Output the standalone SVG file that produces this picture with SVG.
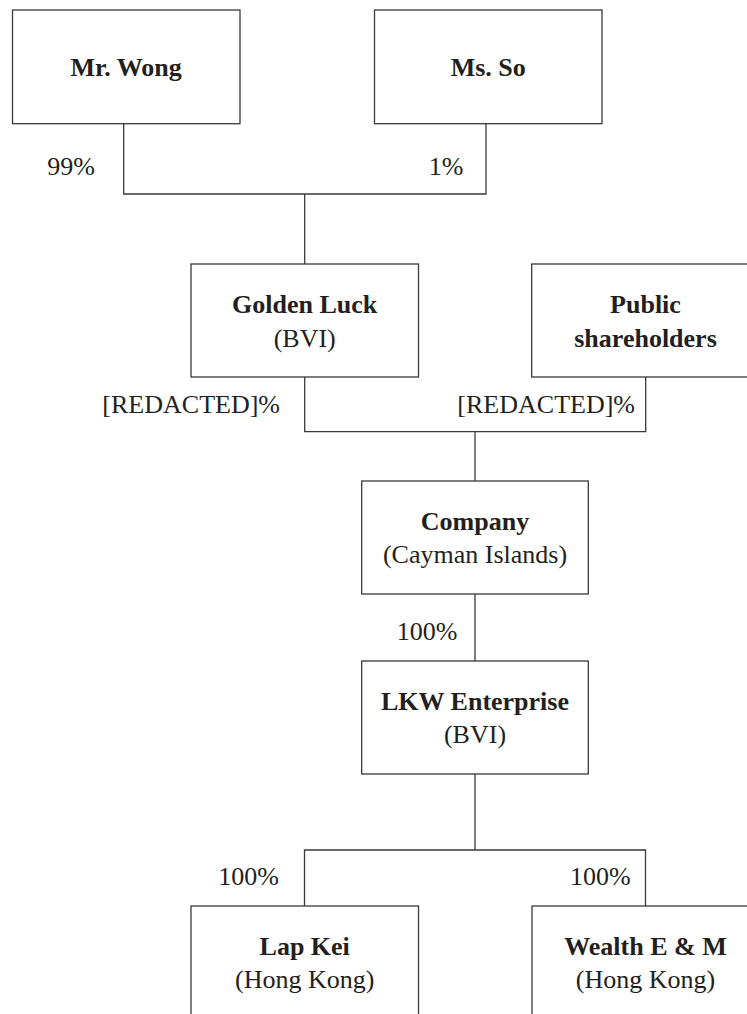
<svg xmlns="http://www.w3.org/2000/svg" width="747" height="1014" viewBox="0 0 747 1014">
<style>
.box{fill:#fff;stroke:#3a3a3a;stroke-width:1.3}
.con{fill:none;stroke:#3a3a3a;stroke-width:1.3}
text{font-family:"Liberation Serif","Times New Roman",serif;font-size:26px;fill:#231f20}
.b{font-weight:bold;text-anchor:middle}
.r{text-anchor:middle}
.lbl{text-anchor:end}
</style>
<rect width="747" height="1014" fill="#fff"/>
<g id="connectors">
<path class="con" d="M123.7,123.7 V194 H486 V123.7"/>
<path class="con" d="M304.7,194 V264"/>
<path class="con" d="M304.7,377 V431.7 H645.7 V377"/>
<path class="con" d="M475,431.7 V481"/>
<path class="con" d="M475,594 V661"/>
<path class="con" d="M475,774 V850"/>
<path class="con" d="M304.5,906 V850 H645.5 V906"/>
</g>
<g id="labels">
<text class="lbl" x="95" y="174.5">99%</text>
<text class="lbl" x="463.3" y="174.5">1%</text>
<text class="lbl" x="280" y="413">[REDACTED]%</text>
<text class="lbl" x="635" y="413">[REDACTED]%</text>
<text class="lbl" x="457.5" y="640">100%</text>
<text class="lbl" x="279" y="885">100%</text>
<text class="lbl" x="630.7" y="885">100%</text>
</g>
<g id="mr-wong">
<rect class="box" x="12.5" y="10" width="227.5" height="113.7"/>
<text class="b" x="126.2" y="76">Mr. Wong</text>
</g>
<g id="ms-so">
<rect class="box" x="374.5" y="10" width="227.5" height="113.7"/>
<text class="b" x="488.2" y="76">Ms. So</text>
</g>
<g id="golden-luck">
<rect class="box" x="191" y="264" width="227.5" height="113"/>
<text class="b" x="304.7" y="313.3">Golden Luck</text>
<text class="r" x="304.7" y="346.7">(BVI)</text>
</g>
<g id="public-shareholders">
<rect class="box" x="531.7" y="264" width="227.5" height="113"/>
<text class="b" x="645.5" y="313.3">Public</text>
<text class="b" x="645.5" y="346.7">shareholders</text>
</g>
<g id="company">
<rect class="box" x="361.7" y="481" width="226.6" height="113"/>
<text class="b" x="475" y="530">Company</text>
<text class="r" x="475" y="562.5">(Cayman Islands)</text>
</g>
<g id="lkw-enterprise">
<rect class="box" x="361.7" y="661" width="226.6" height="113"/>
<text class="b" x="475" y="710">LKW Enterprise</text>
<text class="r" x="475" y="743">(BVI)</text>
</g>
<g id="lap-kei">
<rect class="box" x="191" y="906" width="227.5" height="113"/>
<text class="b" x="304.7" y="955">Lap Kei</text>
<text class="r" x="304.7" y="988">(Hong Kong)</text>
</g>
<g id="wealth-em">
<rect class="box" x="532" y="906" width="227.5" height="113"/>
<text class="b" x="645.5" y="955">Wealth E &amp; M</text>
<text class="r" x="645.5" y="988">(Hong Kong)</text>
</g>
</svg>
